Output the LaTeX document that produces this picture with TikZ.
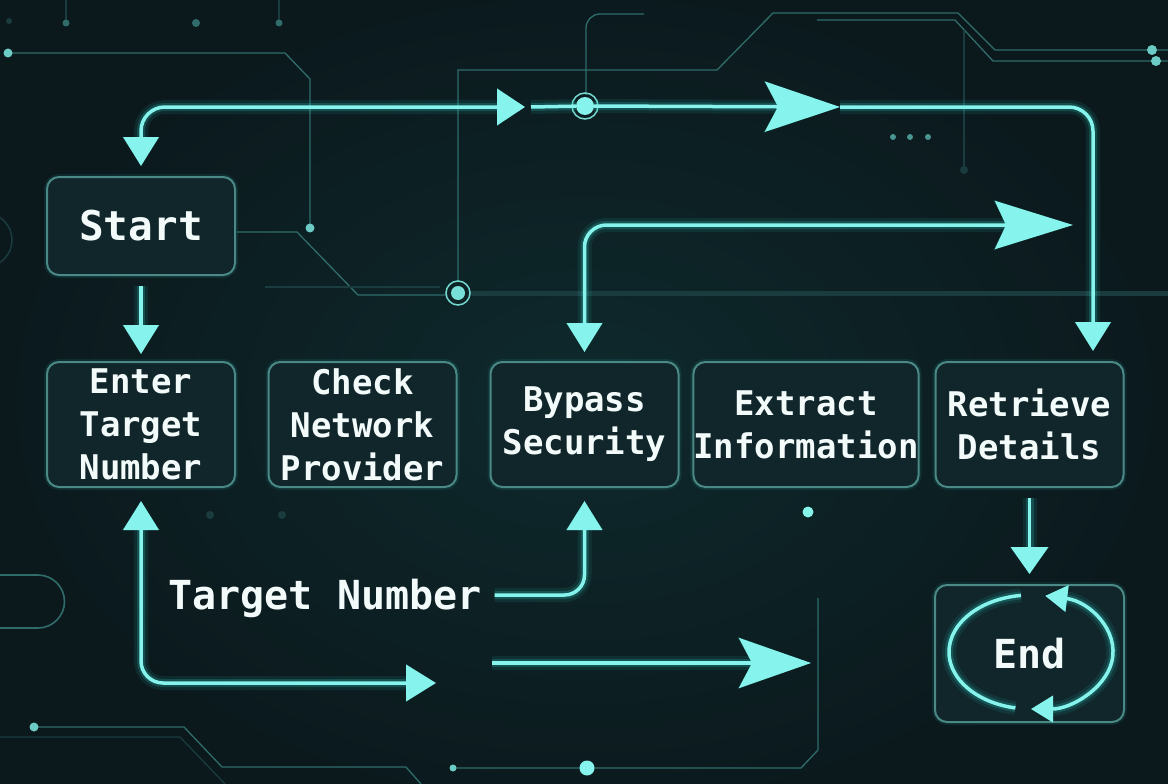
\documentclass[tikz,border=0pt]{standalone}
\usepackage{fontspec}
\newfontfamily\mono{DejaVu Sans Mono}
\usetikzlibrary{arrows.meta}
\definecolor{bg}{HTML}{0B181C}
\definecolor{glow}{HTML}{86F4EC}
\definecolor{halo}{HTML}{2CC9C0}
\definecolor{boxfill}{HTML}{10262A}
\definecolor{boxline}{HTML}{4A8986}
\definecolor{circ}{HTML}{2F6C6A}
\definecolor{dimc}{HTML}{1A3C3F}
\definecolor{txt}{HTML}{F2FAFA}
\begin{document}
\begin{tikzpicture}[x=1pt,y=-1pt,
  stepbox/.style={draw=boxline, line width=2pt, fill=boxfill, rounded corners=12pt,
    minimum width=188pt, minimum height=125pt, text=txt, align=center, inner sep=0pt,
    font=\mono\bfseries\fontsize{34}{43}\selectfont,
    preaction={draw=halo, line width=6pt, opacity=0.10}},
  lbl/.style={text=txt, inner sep=0pt, font=\mono\bfseries\fontsize{40}{48}\selectfont},
  flow/.style={draw=glow, line width=3.5pt, rounded corners=24pt,
    preaction={draw=halo, line width=14pt, opacity=0.10},
    preaction={draw=halo, line width=8pt, opacity=0.22}},
  circuit/.style={draw=circ, line width=1.3pt},
  faint/.style={draw=dimc, line width=1.3pt},
  dot/.style={circle, fill=#1, inner sep=0pt, minimum size=9pt},
  dot/.default=glow!70!circ,
  ringc/.style={draw=glow!80!circ, line width=1.5pt},
  mytri/.tip={Triangle[length=29pt,width=35pt]},
  mysmall/.tip={Triangle[length=22pt,width=26pt]}
]
% background
\useasboundingbox (0,0) rectangle (1168,784);
\clip (0,0) rectangle (1168,784);
\fill[bg] (0,0) rectangle (1168,784);
\shade[inner color=halo!10!bg, outer color=bg] (584,400) ellipse [x radius=620pt, y radius=440pt];

% circuit traces
\draw[circuit] (8,53) -- (285,53) -- (310,79) -- (310,228);
\node[dot] (d1) at (8,53) {};
\node[dot] (d2) at (310,228) {};
\draw[faint] (66,0) -- (66,20); \draw[faint] (279,0) -- (279,20);
\node[dot=circ, minimum size=7pt] (d3) at (66,23) {};
\node[dot=circ, minimum size=8pt] (d4) at (196,23) {};
\node[dot=circ, minimum size=7pt] (d5) at (279,23) {};
\node[dot=dimc, minimum size=6pt] (d6) at (9,21) {};
\draw[faint, line width=1.5pt] (-15,240) circle[radius=27pt];
\draw[circuit] (237,232) -- (297,232) -- (358,295) -- (446,295);
\draw[faint] (265,287) -- (440,287);
\draw[dimc, line width=5pt] (470,293) -- (1168,293);
\draw[circuit] (458,281) -- (458,70) -- (717,70) -- (773,13) -- (958,13) -- (995,50) -- (1168,50);
\draw[circuit] (817,20) -- (955,20) -- (993,61) -- (1168,61);
\node[dot, minimum size=10pt] (d7) at (1152,50) {};
\node[dot, minimum size=10pt] (d8) at (1156,61) {};
\draw[faint] (964,30) -- (964,170);
\node[dot=dimc, minimum size=8pt] (d9) at (964,170) {};
\draw[circuit, rounded corners=14pt] (586,95) -- (586,14) -- (644,14);
\foreach \x [count=\i] in {893,910,928} \node[dot=circ!70!glow, minimum size=6pt] (e\i) at (\x,137) {};
\node[dot=glow, minimum size=11pt] (d10) at (808,512) {};
\draw[circuit, line width=1.6pt] (0,575) -- (38,575) arc[start angle=90, end angle=-90, radius=26.5pt] -- (0,628);
\draw[circuit] (34,727) -- (184,727) -- (222,767) -- (406,767) -- (421,784);
\draw[faint] (0,737) -- (180,737) -- (225,784);
\node[dot, minimum size=9pt] (d11) at (34,727) {};
\draw[circuit] (453,768) -- (587,768) -- (801,768) -- (818,750) -- (818,598);
\node[dot, minimum size=7pt] (d12) at (453,768) {};
\node[dot=glow, minimum size=15pt] (d13) at (587,768) {};
\node[dot=dimc, minimum size=9pt] (d14) at (209,196) {};
\node[dot=dimc, minimum size=8pt] (d15) at (210,515) {};
\node[dot=dimc, minimum size=8pt] (d16) at (282,515) {};

% boxes
\node[stepbox, minimum height=98pt, font=\mono\bfseries\fontsize{41}{48}\selectfont] (start) at (141,226) {Start};
\node[stepbox] (enter) at (141,424.5) {Enter\\Target\\Number};
\node[stepbox] (check) at (362.5,424.5) {Check\\Network\\Provider};
\node[stepbox] (byp) at (584.5,424.5) {Bypass\\Security};
\node[stepbox] (extr) at (806,424.5) {Extract\\Information};
\node[stepbox] (retr) at (1029.5,424.5) {Retrieve\\Details};
\node[stepbox, minimum height=137pt, minimum width=189pt, font=\mono\bfseries\fontsize{40}{48}\selectfont] (endb) at (1029.5,653.5) {End};

% hubs
\node[circle, fill=glow, minimum size=18pt, inner sep=0pt] (c1) at (585,106) {};
\draw[ringc] (c1) circle[radius=13pt];
\node[circle, fill=glow!85!circ, minimum size=14pt, inner sep=0pt] (c2) at (458,293) {};
\draw[ringc] (c2) circle[radius=12pt];

% flows
\coordinate (t1) at (525,107);
\coordinate (t2) at (531,107);
\coordinate (m1) at (840,107);
\coordinate (m2) at (1073,225);
\coordinate (m3) at (436,683);
\coordinate (l1) at (492,663);
\coordinate (l2) at (811,663);
\draw[flow, {Triangle[length=28pt,width=36pt]}-{mytri}] (t1) -| ([yshift=10pt]start.north);
\draw[flow] (t2) -- (c1);
\draw[flow, -{Stealth[length=75pt,width=50pt,inset=13pt]}] (c1) -- (m1);
\draw[flow, -{mytri}] (m1) -| ([xshift=63.5pt,yshift=10pt]retr.north);
\draw[flow, rounded corners=22pt, {mytri}-{Stealth[length=78pt,width=48pt,inset=11pt]}] ([yshift=9pt]byp.north) |- (m2);
\draw[flow, -{mytri}] ([yshift=-10pt]start.south) -- ([yshift=7pt]enter.north);
\draw[flow, rounded corners=22pt, {mytri}-{Triangle[length=30pt,width=36pt]}] ([yshift=-13pt]enter.south) |- (m3);
\node[lbl] (tn) at (325,598) {Target Number};
\draw[flow, rounded corners=20pt, -{mytri}] ([xshift=13pt,yshift=3pt]tn.east) -| ([yshift=-13pt]byp.south);
\draw[flow, -{Stealth[length=72pt,width=50pt,inset=13pt]}] (l1) -- (l2);
\draw[flow, -{Triangle[length=27pt,width=37pt]}] ([yshift=-10pt]retr.south) -- ([yshift=10pt]endb.north);

% loop arrows in End
\draw[flow] (1031,652) ++(97:82pt and 57pt) arc[start angle=97, end angle=259, x radius=82pt, y radius=57pt];
\draw[flow, {mysmall}-{mysmall}] (1031,652) ++(80:82pt and 57pt) arc[start angle=80, end angle=-90, x radius=82pt, y radius=57pt];
\end{tikzpicture}
\end{document}
